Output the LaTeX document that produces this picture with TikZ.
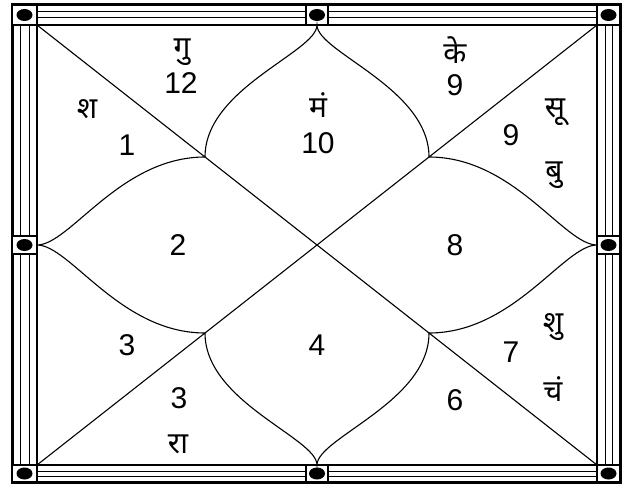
\documentclass[tikz,border=0pt]{standalone}
\usepackage{fontspec}
\setmainfont{Liberation Sans}
\newfontfamily\deva[Script=Devanagari]{Noto Sans}
\begin{document}
\begin{tikzpicture}[x=1pt,y=-1pt,
  chartline/.style={line width=1.1pt},
  numtxt/.style={font=\fontsize{30}{32}\selectfont, inner sep=0pt},
  devtxt/.style={font=\deva\fontsize{30}{34}\selectfont, inner sep=0pt},
  bordbox/.style={draw, fill=white, line width=1.5pt},
  blackdot/.style={fill=black, draw=none}]
\useasboundingbox (0,0) rectangle (629,484);
% key points
\coordinate (TL) at (37,25);
\coordinate (TR) at (597,25);
\coordinate (BL) at (37,465);
\coordinate (BR) at (597,465);
\coordinate (T) at (317,25);
\coordinate (B) at (317,465);
\coordinate (L) at (37,245);
\coordinate (R) at (597,245);
\coordinate (qa) at (205,157);
\coordinate (qb) at (429,157);
\coordinate (qc) at (205,333);
\coordinate (qd) at (429,333);
% border strips
\draw[line width=1pt] (37,12) -- (597,12) (37,18) -- (597,18);
\draw[line width=1pt] (37,471) -- (597,471) (37,476) -- (597,476);
\draw[line width=1pt] (20,25) -- (20,465) (29,25) -- (29,465);
\draw[line width=1pt] (605,25) -- (605,465) (612,25) -- (612,465);
\draw[line width=3pt] (12,5) rectangle (620,482);
\draw[line width=1.5pt] (TL) rectangle (BR);
% boxes with dots
\foreach \x/\y/\w/\h in {12/5/25/20, 597/5/23/20, 12/465/25/17, 597/465/23/17,
  306/5/22/20, 306/465/22/17, 12/236/25/18, 597/236/23/18}{
  \draw[bordbox] (\x,\y) rectangle ++(\w,\h);
  \fill[blackdot] (\x+\w/2,\y+\h/2) ellipse [x radius=8, y radius=6];
}
% diagonals
\draw[chartline] (TL) -- (BR);
\draw[chartline] (BL) -- (TR);
% lotus curves
\draw[chartline] (qa) .. controls (205,88) and (317,52) .. (T)
  .. controls (317,52) and (429,88) .. (qb);
\draw[chartline] (qc) .. controls (205,402) and (317,438) .. (B)
  .. controls (317,438) and (429,402) .. (qd);
\draw[chartline] (qa) .. controls (120,157) and (70,245) .. (L)
  .. controls (70,245) and (120,333) .. (qc);
\draw[chartline] (qb) .. controls (514,157) and (564,245) .. (R)
  .. controls (564,245) and (514,333) .. (qd);
% texts
\node[devtxt] (gu) at (182,52) {गु};
\node[numtxt] (n12) at (181,83) {12};
\node[devtxt] (sha) at (87,109) {श};
\node[numtxt] (n1) at (127,145) {1};
\node[devtxt] (mam) at (318,105) {मं};
\node[numtxt] (n10) at (318,143) {10};
\node[devtxt] (ke) at (455,50) {के};
\node[numtxt] (n9a) at (455,85) {9};
\node[devtxt] (su) at (555,112) {सू};
\node[numtxt] (n9b) at (511,135) {9};
\node[devtxt] (bu) at (554,175) {बु};
\node[numtxt] (n2) at (178,245) {2};
\node[numtxt] (n8) at (455,245) {8};
\node[numtxt] (n3a) at (127,345) {3};
\node[numtxt] (n4) at (317,345) {4};
\node[numtxt] (n3b) at (179,398) {3};
\node[devtxt] (ra) at (178,444) {रा};
\node[numtxt] (n7) at (511,352) {7};
\node[devtxt] (shu) at (553,327) {शु};
\node[devtxt] (cham) at (553,389) {चं};
\node[numtxt] (n6) at (455,400) {6};
\end{tikzpicture}
\end{document}
